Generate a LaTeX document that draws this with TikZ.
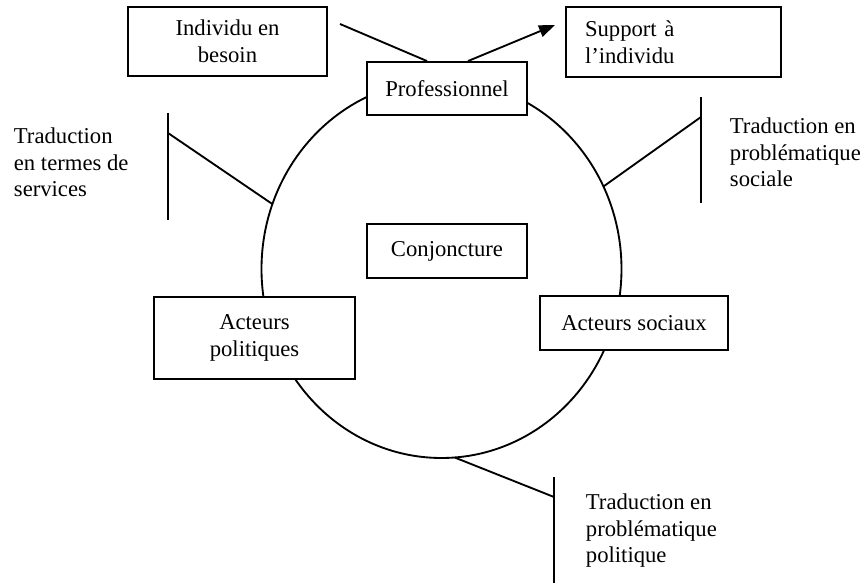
\documentclass[tikz,border=0pt]{standalone}
\usepackage{fontspec}
\setmainfont{Liberation Serif}
\usetikzlibrary{shapes.geometric,arrows.meta}
\newcommand\labfont{\fontsize{17}{20}\selectfont}
\begin{document}
\begin{tikzpicture}[x=0.75pt,y=-0.75pt,line width=1.4pt,
  box/.style={draw,line width=1.4pt,fill=white,inner sep=0pt,align=center,font=\labfont},
  lbl/.style={inner sep=0pt,align=left,font=\labfont,anchor=north west}]
\useasboundingbox (0,0) rectangle (865,584);
% ring
\node[draw,ellipse,line width=1.4pt,minimum width=270pt,minimum height=283.5pt,inner sep=0pt,outer sep=0pt] (ring) at (441.5,269) {};
% boxes
\node[box,minimum width=149.25pt,minimum height=51.75pt] (indiv) at (227.5,41.5) {Individu en\\besoin};
\node[box,align=left,text width=132.75pt,inner xsep=14.25pt,minimum height=52.5pt] (support) at (673.5,42) {Support à\\l’individu};
\node[box,minimum width=120pt,minimum height=39.75pt] (prof) at (447,88.5) {Professionnel};
\node[box,minimum width=120pt,minimum height=40.5pt] (conj) at (447,251) {Conjoncture};
\node[box,minimum width=150.75pt,minimum height=61.5pt] (actpol) at (254.5,338) {Acteurs\\politiques};
\node[box,minimum width=141pt,minimum height=40.5pt] (actsoc) at (634,323) {Acteurs sociaux};
% top connectors
\coordinate (ia) at (340,24);
\coordinate (tip) at (555,25);
\draw (ia) -- ([xshift=-15pt]prof.north);
\draw[-{Triangle[length=12pt,width=9pt]}] ([xshift=15.75pt]prof.north) -- (tip);
% brackets
\coordinate (lt) at (168,113); \coordinate (lb) at (168,220); \coordinate (lj) at (168,133);
\draw (lt) -- (lb); \draw (lj) -- (ring.159);
\coordinate (rt) at (701,97); \coordinate (rb) at (701,203); \coordinate (rj) at (701,117);
\draw (rt) -- (rb); \draw (rj) -- (ring.27);
\coordinate (bt) at (554,477); \coordinate (bb) at (554,583); \coordinate (bj) at (554,497);
\draw (bt) -- (bb); \draw (bj) -- (ring.274);
% labels
\node[lbl] (tl) at (13,127) {Traduction\\en termes de\\services};
\node[lbl] (tr) at (729,117) {Traduction en\\problématique\\sociale};
\node[lbl] (tb) at (585,493) {Traduction en\\problématique\\politique};
\end{tikzpicture}
\end{document}
